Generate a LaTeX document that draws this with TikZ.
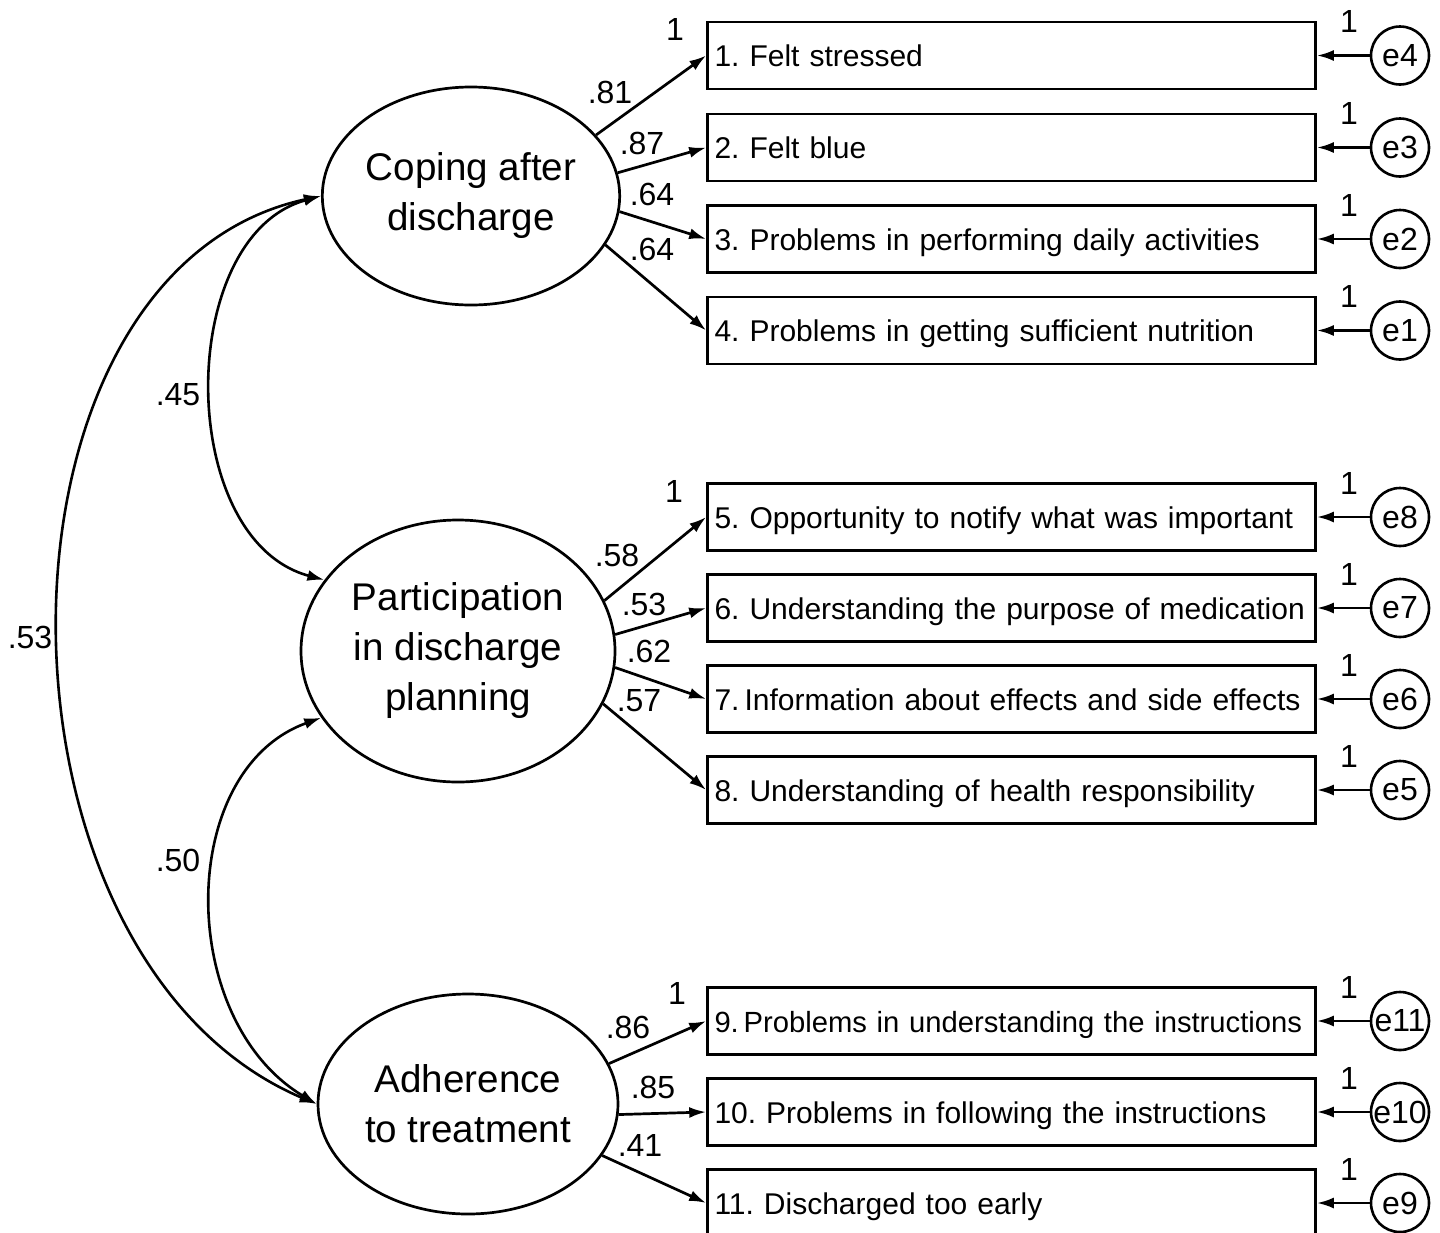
\documentclass[tikz,border=0pt]{standalone}
\usepackage{fontspec}
\setmainfont{Liberation Sans}
\usepackage{tikz}
\usetikzlibrary{shapes.geometric,arrows.meta}
\frenchspacing

\begin{document}
\begin{tikzpicture}[x=0.5pt,y=-0.5pt,
	latent/.style={ellipse,draw,line width=1.35pt,inner sep=0pt,align=center,font=\fontsize{19.3}{25}\selectfont},
	item/.style={rectangle,draw,line width=1.3pt,minimum width=303.5pt,minimum height=33.5pt,text width=297pt,inner xsep=3.5pt,align=left,text height=11pt,text depth=0pt,font=\fontsize{15}{18}\selectfont},
	err/.style={circle,draw,line width=1.3pt,minimum size=29pt,inner sep=0pt,font=\fontsize{16}{18}\selectfont},
	lbl/.style={inner sep=0pt,font=\fontsize{16}{18}\selectfont},
	load/.style={-{Latex[length=8.5pt,width=5.5pt]},line width=1.35pt},
	cov/.style={{Latex[length=8.5pt,width=5.5pt]}-{Latex[length=8.5pt,width=5.5pt]},line width=1.3pt}]
		\useasboundingbox (0,0) rectangle (1440,1232);
		\node[latent,minimum width=146pt,minimum height=109pt] (coping) at (471,196) {Coping after\\discharge};
		\node[latent,minimum width=157pt,minimum height=131pt] (particip) at (458,651) {Participation\\in discharge\\planning};
		\node[latent,minimum width=150pt,minimum height=110pt] (adher) at (468,1104) {Adherence\\to treatment};
		\node[item] (i1) at (1011.5,55.5) {1. Felt stressed};
		\node[item] (i2) at (1011.5,147.5) {2. Felt blue};
		\node[item] (i3) at (1011.5,239) {3. Problems in performing daily activities};
		\node[item] (i4) at (1011.5,330.5) {4. Problems in getting sufficient nutrition};
		\node[item] (i5) at (1011.5,517) {5. Opportunity to notify what was important};
		\node[item] (i6) at (1011.5,608) {6. Understanding the purpose of medication};
		\node[item] (i7) at (1011.5,699) {7.\,Information about effects and side effects};
		\node[item] (i8) at (1011.5,790) {8. Understanding of health responsibility};
		\node[item,font=\fontsize{14.6}{18}\selectfont] (i9) at (1011.5,1021) {\mbox{9.\,Problems in understanding the instructions}};
		\node[item] (i10) at (1011.5,1112) {10. Problems in following the instructions};
		\node[item] (i11) at (1011.5,1203) {11. Discharged too early};
		\node[err] (e4) at (1400,55.5) {e4};
		\node[err] (e3) at (1400,147.5) {e3};
		\node[err] (e2) at (1400,239) {e2};
		\node[err] (e1) at (1400,330.5) {e1};
		\node[err] (e8) at (1400,517) {e8};
		\node[err] (e7) at (1400,608) {e7};
		\node[err] (e6) at (1400,699) {e6};
		\node[err] (e5) at (1400,790) {e5};
		\node[err] (e11) at (1400,1021) {e11};
		\node[err] (e10) at (1400,1112) {e10};
		\node[err] (e9) at (1400,1203) {e9};
		\draw[load] (coping.26) -- (i1.west);
		\draw[load] (coping.9) -- (i2.west);
		\draw[load] (coping.-6) -- (i3.west);
		\draw[load] (coping.-20) -- (i4.west);
		\draw[load] (particip.19) -- (i5.west);
		\draw[load] (particip.6) -- (i6.west);
		\draw[load] (particip.-6) -- (i7.west);
		\draw[load] (particip.-20) -- (i8.west);
		\draw[load] (adher.16) -- (i9.west);
		\draw[load] (adher.-4) -- (i10.west);
		\draw[load] (adher.-21) -- (i11.west);
		\draw[load] (e4) -- (i1.east);
		\draw[load] (e3) -- (i2.east);
		\draw[load] (e2) -- (i3.east);
		\draw[load] (e1) -- (i4.east);
		\draw[load] (e8) -- (i5.east);
		\draw[load] (e7) -- (i6.east);
		\draw[load] (e6) -- (i7.east);
		\draw[load] (e5) -- (i8.east);
		\draw[load] (e11) -- (i9.east);
		\draw[load] (e10) -- (i10.east);
		\draw[load] (e9) -- (i11.east);
		\draw[cov] (coping.west) .. controls (175,236) and (175,540) .. (particip.152);
		\draw[cov] (particip.206) .. controls (176,770) and (176,1020) .. (adher.west);
		\draw[cov] (coping.west) .. controls (-27,271) and (-27,958) .. (adher.west);
		\node[lbl] (c45) at (178,395) {.45};
		\node[lbl] (c53) at (30,637) {.53};
		\node[lbl] (c50) at (178,860) {.50};
		\node[lbl] (w1) at (675,29) {1};
		\node[lbl] (w81) at (610,92) {.81};
		\node[lbl] (w87) at (642,143) {.87};
		\node[lbl] (w64a) at (652,194) {.64};
		\node[lbl] (w64b) at (652,249) {.64};
		\node[lbl] (w5) at (674,491) {1};
		\node[lbl] (w58) at (617,555) {.58};
		\node[lbl] (w53) at (644,604) {.53};
		\node[lbl] (w62) at (649,651) {.62};
		\node[lbl] (w57) at (639,701) {.57};
		\node[lbl] (w9) at (677,993) {1};
		\node[lbl] (w86) at (628,1027) {.86};
		\node[lbl] (w85) at (653,1087) {.85};
		\node[lbl] (w41) at (640,1145) {.41};
		\node[lbl] (f4) at (1349,21.5) {1};
		\node[lbl] (f3) at (1349,113.5) {1};
		\node[lbl] (f2) at (1349,205) {1};
		\node[lbl] (f1) at (1349,296.5) {1};
		\node[lbl] (f8) at (1349,483) {1};
		\node[lbl] (f7) at (1349,574) {1};
		\node[lbl] (f6) at (1349,665) {1};
		\node[lbl] (f5) at (1349,756) {1};
		\node[lbl] (f11) at (1349,987) {1};
		\node[lbl] (f10) at (1349,1078) {1};
		\node[lbl] (f9) at (1349,1169) {1};
\end{tikzpicture}
\end{document}
